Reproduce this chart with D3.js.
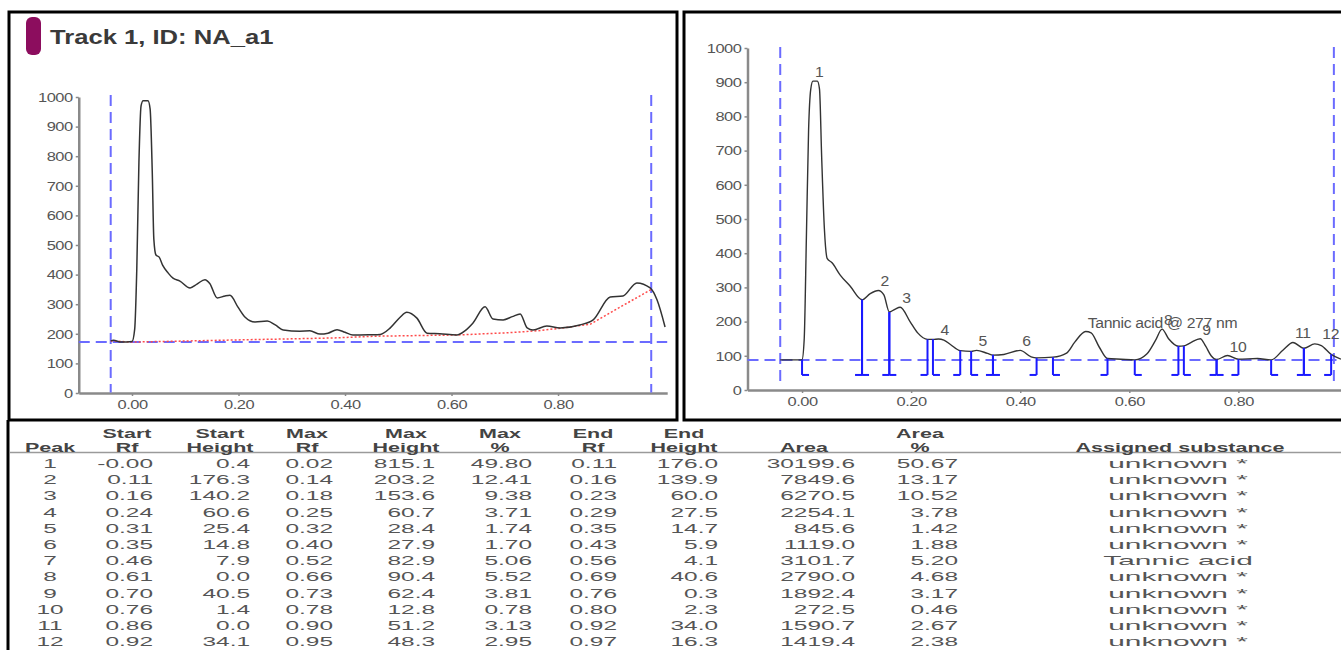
<!DOCTYPE html>
<html>
<head>
<meta charset="utf-8">
<script src="https://cdn.jsdelivr.net/npm/d3@7"></script>
<style>
body { margin: 0; background: #fff; }
text { font-family: "Liberation Sans", Arial, sans-serif; }
</style>
</head>
<body>
<script>
// raw densitogram (left panel), Rf vs AU
var leftRf = [-0.04, -0.035, -0.02, 0.000, 0.005, 0.009, 0.013, 0.017, 0.021, 0.030, 0.034, 0.038, 0.041, 0.045,
    0.051, 0.058, 0.068, 0.077, 0.090, 0.109, 0.122, 0.137, 0.146, 0.160, 0.175, 0.184, 0.199, 0.212, 0.231,
    0.254, 0.269, 0.284, 0.315, 0.334, 0.353, 0.368, 0.385, 0.400, 0.415, 0.447, 0.466, 0.485, 0.503, 0.516,
    0.535, 0.554, 0.578, 0.610, 0.625, 0.640, 0.663, 0.678, 0.697, 0.714, 0.729, 0.742, 0.753, 0.779, 0.804,
    0.841, 0.866, 0.898, 0.922, 0.948, 0.973, 0.986, 1.001
]
var leftAU = [176, 178, 172, 174, 215, 420, 780, 970, 987, 987, 960, 750, 520, 466,
    459, 430, 405, 388, 378, 355, 368, 383, 370, 321, 328, 330, 290, 257, 240,
    243, 230, 213, 209, 210, 199, 202, 214, 205, 196, 197, 198, 220, 255, 273,
    253, 202, 200, 196, 210, 236, 291, 250, 247, 258, 267, 220, 213, 226, 220,
    230, 247, 324, 328, 372, 355, 314, 223
]
// red dotted baseline of the left panel
var baseRf = [-0.04, 0.00, 0.38, 0.46, 0.61, 0.70, 0.76, 0.80, 0.86, 0.975]
var baseAU = [176, 172, 186, 192, 196, 203, 210, 218, 232, 350]

// baseline corrected densitogram (right panel)
var rightRf = [-0.04, -0.005, 0.000, 0.004, 0.008, 0.012, 0.016, 0.020, 0.028, 0.032, 0.036, 0.041, 0.046, 0.055,
    0.070, 0.088, 0.110, 0.125, 0.140, 0.150, 0.160, 0.170, 0.180, 0.198, 0.212, 0.230, 0.240, 0.250,
    0.260, 0.272, 0.290, 0.310, 0.320, 0.340, 0.350, 0.370, 0.400, 0.420, 0.430, 0.460, 0.485, 0.500,
    0.520, 0.530, 0.545, 0.560, 0.585, 0.610, 0.632, 0.648, 0.660, 0.672, 0.690, 0.700, 0.712, 0.730,
    0.740, 0.750, 0.760, 0.780, 0.800, 0.835, 0.860, 0.882, 0.900, 0.920, 0.940, 0.952, 0.970, 0.988
]
var rightAU = [88, 88, 89, 150, 450, 760, 880, 903, 903, 880, 680, 470, 385, 372,
    336, 304, 264, 282, 291, 278, 228, 236, 242, 200, 167, 148, 148, 149,
    146, 133, 115, 113, 116, 107, 102, 104, 116, 97, 94, 96, 108, 140,
    171, 167, 125, 92, 90, 88, 105, 145, 178, 150, 128, 129, 138, 150,
    128, 100, 89, 101, 90, 92, 88, 117, 139, 122, 135, 130, 104, 90
]

var yTicks = [0, 100, 200, 300, 400, 500, 600, 700, 800, 900, 1000]
var rfTicks = [0, 0.2, 0.4, 0.6, 0.8]
var trackLimits = [-0.04, 0.975]
var leftLevel = 172
var rightLevel = 88
var markFloor = 44

// peak table
var peak = ["1", "2", "3", "4", "5", "6", "7", "8", "9", "10", "11", "12"]
var startRf = ["-0.00", "0.11", "0.16", "0.24", "0.31", "0.35", "0.46", "0.61", "0.70", "0.76", "0.86", "0.92"]
var startHeight = ["0.4", "176.3", "140.2", "60.6", "25.4", "14.8", "7.9", "0.0", "40.5", "1.4", "0.0", "34.1"]
var maxRf = ["0.02", "0.14", "0.18", "0.25", "0.32", "0.40", "0.52", "0.66", "0.73", "0.78", "0.90", "0.95"]
var maxHeight = ["815.1", "203.2", "153.6", "60.7", "28.4", "27.9", "82.9", "90.4", "62.4", "12.8", "51.2", "48.3"]
var maxPct = ["49.80", "12.41", "9.38", "3.71", "1.74", "1.70", "5.06", "5.52", "3.81", "0.78", "3.13", "2.95"]
var endRf = ["0.11", "0.16", "0.23", "0.29", "0.35", "0.43", "0.56", "0.69", "0.76", "0.80", "0.92", "0.97"]
var endHeight = ["176.0", "139.9", "60.0", "27.5", "14.7", "5.9", "4.1", "40.6", "0.3", "2.3", "34.0", "16.3"]
var area = ["30199.6", "7849.6", "6270.5", "2254.1", "845.6", "1119.0", "3101.7", "2790.0", "1892.4", "272.5", "1590.7", "1419.4"]
var areaPct = ["50.67", "13.17", "10.52", "3.78", "1.42", "1.88", "5.20", "4.68", "3.17", "0.46", "2.67", "2.38"]
var substance = ["unknown *", "unknown *", "unknown *", "unknown *", "unknown *", "unknown *", "Tannic acid",
    "unknown *", "unknown *", "unknown *", "unknown *", "unknown *"]
var peakLabel = ["1", "2", "3", "4", "5", "6", "Tannic acid @ 277 nm", "8", "9", "10", "11", "12"]

const width = 1341
const height = 650
const dashBlue = "#6b6bff"
const axisGray = "#8a8a8a"
const textGray = "#555"

var svg = d3.select("body").append("svg").attr("width", width).attr("height", height)

// text squeezed like the scanned report (wide glyphs)
function stext(g, x, y, str, sx, anchor) {
    return g.append("text")
        .attr("transform", "translate(" + x + "," + y + ") scale(" + sx + ",1)")
        .attr("text-anchor", anchor || "start")
        .text(str)
}

function drawAxes(g, xs, ys) {
    g.append("g").attr("transform", "translate(" + xs.range()[0] + ",0)")
        .call(d3.axisLeft(ys).tickValues(yTicks).tickSize(3).tickSizeOuter(0).tickPadding(2)
            .tickFormat(d3.format("d")))
    g.append("g").attr("transform", "translate(0," + ys(0) + ")")
        .call(d3.axisBottom(xs).tickValues(rfTicks).tickSize(3).tickSizeOuter(0).tickPadding(3)
            .tickFormat(d3.format(".2f")))
    g.selectAll(".domain").attr("stroke", axisGray).attr("stroke-width", 2.5)
    g.selectAll(".tick line").attr("stroke", axisGray).attr("stroke-width", 1.5)
    g.selectAll(".tick text")
        .attr("fill", textGray)
        .attr("font-size", 13.5)
        .attr("font-family", "Liberation Sans, Arial, sans-serif")
        .attr("letter-spacing", -0.4)
        .attr("transform", "scale(1.22,1)")
}

function dashed(g, x1, y1, x2, y2) {
    g.append("line").attr("x1", x1).attr("y1", y1).attr("x2", x2).attr("y2", y2)
        .attr("stroke", dashBlue).attr("stroke-width", 2).attr("stroke-dasharray", "11,6")
}

// ---------- left panel ----------
var left = svg.append("g")
left.append("rect").attr("x", 9).attr("y", 12).attr("width", 668).attr("height", 408)
    .attr("fill", "none").attr("stroke", "#000").attr("stroke-width", 3)
left.append("rect").attr("x", 26).attr("y", 17).attr("width", 15).attr("height", 38).attr("rx", 6)
    .attr("fill", "#8c0d5e")
stext(left, 50, 44, "Track 1, ID: NA_a1", 1.22).attr("font-size", 21).attr("font-weight", "bold").attr("fill", "#3a3a3a")

var xL = d3.scaleLinear().domain([-0.1, 1.005]).range([78.75, 667.2])
var yL = d3.scaleLinear().domain([0, 1000]).range([393, 97])
drawAxes(left, xL, yL)

trackLimits.forEach(function (rf) { dashed(left, xL(rf), yL(1007), xL(rf), yL(2)) })
dashed(left, xL(-0.1), yL(leftLevel), xL(1.005), yL(leftLevel))

left.append("path")
    .datum(baseRf.map((d, i) => [d, baseAU[i]]))
    .attr("fill", "none").attr("stroke", "#ff4a4a").attr("stroke-width", 1.5).attr("stroke-dasharray", "2,2")
    .attr("d", d3.line().x(d => xL(d[0])).y(d => yL(d[1])))

left.append("path")
    .datum(leftRf.map((d, i) => [d, leftAU[i]]))
    .attr("fill", "none").attr("stroke", "#333").attr("stroke-width", 1.5)
    .attr("d", d3.line().x(d => xL(d[0])).y(d => yL(d[1])).curve(d3.curveMonotoneX))

// ---------- right panel ----------
var right = svg.append("g")
right.append("path").attr("d", "M1341,12H684V420H1341")
    .attr("fill", "none").attr("stroke", "#000").attr("stroke-width", 3)

var xR = d3.scaleLinear().domain([-0.1, 1.0]).range([747.5, 1347.5])
var yR = d3.scaleLinear().domain([0, 1000]).range([390, 48])
drawAxes(right, xR, yR)

trackLimits.forEach(function (rf) { dashed(right, xR(rf), yR(1003), xR(rf), yR(10)) })
dashed(right, xR(-0.1), yR(rightLevel), width, yR(rightLevel))

right.append("path")
    .datum(rightRf.map((d, i) => [d, rightAU[i]]))
    .attr("fill", "none").attr("stroke", "#333").attr("stroke-width", 1.4)
    .attr("d", d3.line().x(d => xR(d[0])).y(d => yR(d[1])).curve(d3.curveMonotoneX))

// peak start / end markers
var marks = right.append("g").attr("stroke", "#1a1aff").attr("stroke-width", 2)
peak.forEach(function (p, i) {
    [[+startRf[i], +startHeight[i], 7], [+endRf[i], +endHeight[i], -7]].forEach(function (m) {
        var x = xR(m[0])
        marks.append("line").attr("x1", x).attr("x2", x)
            .attr("y1", yR(m[1] + rightLevel)).attr("y2", yR(markFloor))
        marks.append("line").attr("x1", x).attr("x2", x + m[2])
            .attr("y1", yR(markFloor)).attr("y2", yR(markFloor))
    })
})

// peak numbers (the 7th carries the substance name and overlaps 8 and 9, as in the report)
peak.forEach(function (p, i) {
    stext(right, xR(+maxRf[i]) + 2, yR(+maxHeight[i] + rightLevel) - 4, peakLabel[i], 1.05)
        .attr("font-size", 15).attr("fill", textGray).attr("letter-spacing", -0.3)
})

// ---------- table ----------
var table = svg.append("g")
table.append("line").attr("x1", 8).attr("x2", 8).attr("y1", 420).attr("y2", 650)
    .attr("stroke", "#000").attr("stroke-width", 3)
table.append("line").attr("x1", 10).attr("x2", width).attr("y1", 452.5).attr("y2", 452.5)
    .attr("stroke", "#9a9a9a").attr("stroke-width", 1.5)

var columns = [
    { head: ["", "Peak"], hx: 50, vals: peak, x: 50, anchor: "middle" },
    { head: ["Start", "Rf"], hx: 127, vals: startRf, x: 153, anchor: "end" },
    { head: ["Start", "Height"], hx: 220, vals: startHeight, x: 250, anchor: "end" },
    { head: ["Max", "Rf"], hx: 307, vals: maxRf, x: 333, anchor: "end" },
    { head: ["Max", "Height"], hx: 406, vals: maxHeight, x: 435, anchor: "end" },
    { head: ["Max", "%"], hx: 500, vals: maxPct, x: 532, anchor: "end" },
    { head: ["End", "Rf"], hx: 593, vals: endRf, x: 617, anchor: "end" },
    { head: ["End", "Height"], hx: 684, vals: endHeight, x: 718, anchor: "end" },
    { head: ["", "Area"], hx: 804, vals: area, x: 855, anchor: "end" },
    { head: ["Area", "%"], hx: 920, vals: areaPct, x: 958, anchor: "end" },
    { head: ["", "Assigned substance"], hx: 1180, vals: substance, x: 1178, anchor: "middle", sx: 2.3 }
]

columns.forEach(function (c) {
    c.head.forEach(function (h, k) {
        if (h) stext(table, c.hx, 437.5 + k * 14, h, 1.72, "middle")
            .attr("font-size", 12.5).attr("font-weight", "bold").attr("fill", "#444")
    })
    c.vals.forEach(function (v, i) {
        stext(table, c.x, 468 + i * 16.2, v, c.sx || 1.88, c.anchor)
            .attr("font-size", 13).attr("fill", textGray)
    })
})
</script>
</body>
</html>
